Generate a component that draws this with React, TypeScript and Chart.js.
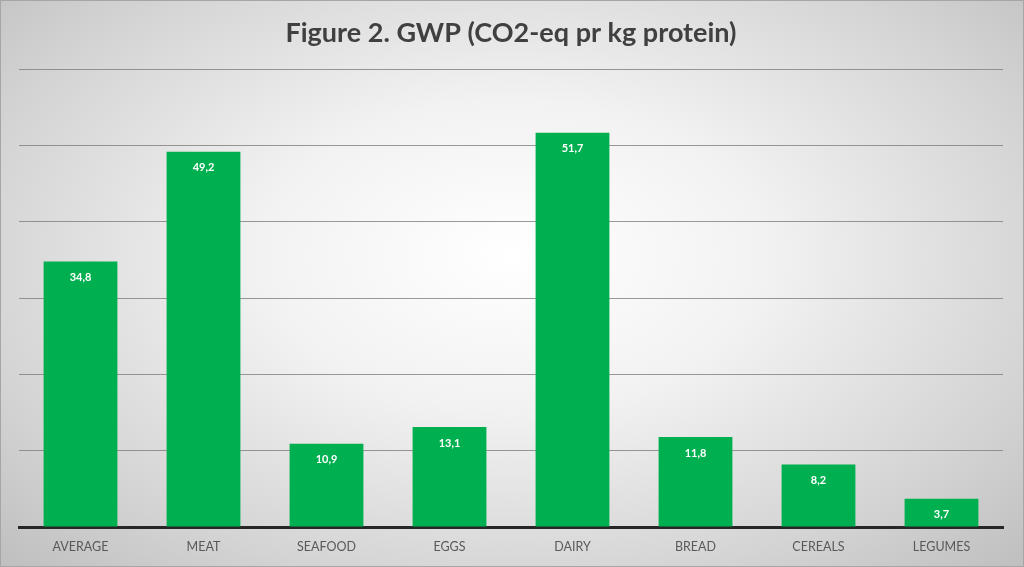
import React, { useEffect, useRef } from "react";
import { Chart, registerables } from "chart.js";

Chart.register(...registerables);

const categories = ["AVERAGE", "MEAT", "SEAFOOD", "EGGS", "DAIRY", "BREAD", "CEREALS", "LEGUMES"];
const values = [34.8, 49.2, 10.9, 13.1, 51.7, 11.8, 8.2, 3.7];
const valueLabels = ["34,8", "49,2", "10,9", "13,1", "51,7", "11,8", "8,2", "3,7"];
const titleText = "Figure 2. GWP (CO2-eq pr kg protein)";

const labelPlugin = {
  id: "insideLabels",
  afterDatasetsDraw(chart: any) {
    const ctx = chart.ctx;
    const meta = chart.getDatasetMeta(0);
    ctx.save();
    ctx.font = "bold 11px Lato, 'Open Sans', sans-serif";
    ctx.fillStyle = "#ffffff";
    ctx.textAlign = "center";
    ctx.textBaseline = "middle";
    meta.data.forEach((bar: any, i: number) => {
      ctx.fillText(valueLabels[i], bar.x, bar.y + 16);
    });
    ctx.restore();
  },
};

export default function App() {
  const ref = useRef<HTMLCanvasElement>(null);
  useEffect(() => {
    if (!ref.current) return;
    const chart = new Chart(ref.current, {
      type: "bar",
      data: {
        labels: categories,
        datasets: [
          {
            data: values,
            backgroundColor: "#00b050",
            borderWidth: 0,
            categoryPercentage: 0.6,
            barPercentage: 1,
          },
        ],
      },
      options: {
        animation: false,
        responsive: true,
        maintainAspectRatio: false,
        layout: { padding: { left: 18, right: 20, top: 0, bottom: 0 } },
        plugins: {
          legend: { display: false },
          tooltip: { enabled: false },
          title: {
            display: true,
            text: titleText,
            color: "#404040",
            font: { family: "Lato, 'Open Sans', sans-serif", size: 27, weight: "bold" },
            padding: { top: 16, bottom: 20 },
          },
        },
        scales: {
          x: {
            grid: { display: false, drawTicks: false },
            border: { display: true, color: "#262626", width: 3 },
            ticks: {
              color: "#595959",
              font: { family: "Lato, 'Open Sans', sans-serif", size: 12.5 },
              padding: 12,
            },
          },
          y: {
            min: 0,
            max: 60,
            ticks: { display: false, stepSize: 10 },
            grid: { color: "rgba(120,120,120,0.75)", lineWidth: 1, drawTicks: false },
            border: { display: false },
          },
        },
      },
      plugins: [labelPlugin],
    });
    return () => chart.destroy();
  }, []);
  return (
    <div
      style={{
        position: "fixed",
        left: 0,
        top: 0,
        width: 1024,
        height: 567,
        background: "radial-gradient(ellipse at 50% 45%, #ffffff 0%, #f2f2f2 35%, #d4d4d4 75%, #bfbfbf 100%)",
        boxSizing: "border-box",
        border: "1px solid #a6a6a6",
      }}
    >
      <canvas ref={ref} />
    </div>
  );
}
